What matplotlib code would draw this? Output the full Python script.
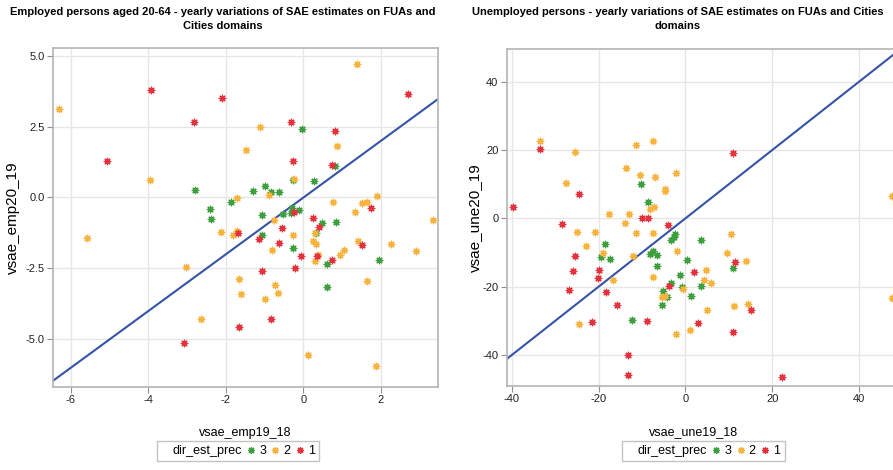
import numpy as np
import matplotlib
matplotlib.use("Agg")
import matplotlib.pyplot as plt
from matplotlib.lines import Line2D

plt.rcParams['font.family'] = ['Liberation Sans', 'DejaVu Sans']
plt.rcParams['axes.unicode_minus'] = False

# --- Employed persons (left panel) ---
emp_g_x = [-0.04, -2.79, -1.29, -0.98, -0.83, -0.63, -0.26, 0.26, 0.81, -1.86, -2.41, -2.39, -1.07,
           -0.52, -0.30, -0.31, -0.12, 0.47, 0.85, -1.08, 0.32, -0.26, 0.61, 1.95, 0.61]
emp_g_y = [2.41, 0.26, 0.24, 0.41, 0.18, 0.19, 0.62, 0.58, 1.11, -0.16, -0.41, -0.77, -0.62,
           -0.57, -0.37, -0.53, -0.43, -0.90, -0.88, -1.31, -1.26, -1.78, -2.33, -2.20, -3.14]
emp_o_x = [-6.31, 1.37, -1.13, -1.49, 0.86, -3.95, -0.24, -5.59, -1.72, -0.88, 1.90, 0.77, 1.50, 1.65,
           1.33, 3.33, -0.76, -2.13, -1.83, -1.72, -0.28, 0.24, 0.30, 0.31, 1.40, 2.27, 2.91, 1.05,
           0.93, -0.80, 0.38, 0.30, -3.03, -1.66, 1.63, -0.73, -1.60, -0.65, -1.00, -2.65, 0.12, 1.88]
emp_o_y = [3.12, 4.71, 2.47, 1.69, 1.82, 0.62, 0.64, -1.44, -0.02, 0.08, 0.05, -0.17, -0.18, -0.15,
           -0.51, -0.80, -0.79, -1.23, -1.33, -1.19, -1.32, -1.55, -1.26, -1.65, -1.55, -1.64, -1.90, -1.84,
           -2.04, -1.85, -2.03, -2.24, -2.44, -2.86, -2.93, -3.09, -3.39, -3.37, -3.57, -4.28, -5.54, -5.95]
emp_r_x = [-3.94, -2.11, 2.70, -2.82, -0.31, 0.80, -5.06, -0.28, 0.74, 0.25, 1.74, -0.25, -1.69,
           -0.55, 0.41, -1.16, -0.64, 1.51, 0.36, -0.07, 0.73, -0.22, -1.08, -1.66, -0.85, -3.07]
emp_r_y = [3.79, 3.50, 3.64, 2.67, 2.67, 2.35, 1.27, 1.27, 1.15, -0.71, -0.37, -0.52, -1.26,
           -1.09, -1.04, -1.47, -1.62, -1.66, -2.06, -2.06, -2.21, -2.47, -2.59, -4.58, -4.28, -5.14]

# --- Unemployed persons (right panel) ---
une_g_x = [-10.3, -8.6, -18.6, -19.4, -17.4, -7.5, -8.2, -6.5, -6.6, -2.3, -2.6, -3.4, 3.6, 0.3,
           -1.3, -0.9, -3.3, -5.1, -4.3, -5.3, 1.2, 3.6, 11.0, -12.3]
une_g_y = [10.2, 4.9, -7.4, -11.4, -11.8, -9.6, -10.3, -10.7, -14.0, -4.6, -5.4, -6.3, -6.3, -12.3,
           -16.5, -20.1, -19.0, -21.2, -23.0, -25.4, -22.8, -19.7, -14.4, -29.8]
une_o_x = [-33.5, -7.5, -25.5, -11.3, -27.6, -13.6, -10.5, -7.1, -2.1, -4.7, -4.7, -8.1, -7.2, -17.6,
           -12.9, -14.0, -25.0, -20.9, -11.4, -7.4, 10.5, -23.0, -19.1, -12.0, -1.9, 9.5, 14.0, -16.7,
           -7.5, 4.8, 4.3, 6.0, -5.5, -4.7, -0.6, 5.0, 11.2, 14.3, -24.5, -2.2, 1.1, 47.7, 47.5]
une_o_y = [22.7, 22.7, 19.4, 21.4, 10.4, 14.7, 12.7, 12.2, 13.3, 8.6, 8.1, 2.8, 3.2, 1.2,
           1.2, -1.5, -4.1, -4.1, -4.2, -4.2, -4.6, -8.2, -10.2, -11.0, -9.7, -10.2, -12.4, -18.1,
           -17.2, -15.2, -18.0, -18.8, -22.9, -22.7, -20.6, -26.8, -25.6, -25.1, -30.9, -33.8, -32.8, 6.4, -23.3]
une_r_x = [-33.5, 10.9, -24.6, -39.8, -28.5, -10.0, -8.6, -4.0, -25.5, -25.9, -19.9, -20.1, -26.9,
           -18.4, -3.9, 1.9, 11.4, -15.7, 15.0, -21.5, -8.8, 2.9, 10.9, -13.3, -13.3, 22.2]
une_r_y = [20.3, 19.1, 7.2, 3.2, -1.7, 0.2, 0.0, -2.0, -11.0, -15.3, -15.1, -17.5, -21.1,
           -21.5, -19.7, -15.7, -12.7, -25.5, -26.9, -30.5, -30.2, -30.7, -33.3, -40.1, -46.0, -46.6]

green = '#3d9f3d'
orange = '#f6b33e'
red = '#e5323c'
blue = '#3553a8'
marker = (8, 2, 0)

fig = plt.figure(figsize=(8.93, 4.70), dpi=100)
ax1 = fig.add_axes([0.0594, 0.1766, 0.4311, 0.7213])
ax2 = fig.add_axes([0.5674, 0.1787, 0.4446, 0.7164])


def style_axes(ax):
    for s in ax.spines.values():
        s.set_color('#b4b4b4')
        s.set_linewidth(1.2)
    ax.grid(True, color='#e6e6e6', linewidth=1.0)
    ax.set_axisbelow(True)
    ax.tick_params(colors='#909090', labelcolor='#222222', labelsize=8, length=4, width=0.8, pad=2)


def draw(ax, gx, gy, ox, oy, rx, ry):
    ax.scatter(gx, gy, marker=marker, s=22, color=green, linewidths=0.9, zorder=3)
    ax.scatter(ox, oy, marker=marker, s=22, color=orange, linewidths=0.9, zorder=3)
    ax.scatter(rx, ry, marker=marker, s=22, color=red, linewidths=0.9, zorder=3)


draw(ax1, emp_g_x, emp_g_y, emp_o_x, emp_o_y, emp_r_x, emp_r_y)
ax1.plot([-10, 10], [-10, 10], color=blue, linewidth=1.5, zorder=2)
ax1.set_xlim(-6.46, 3.47)
ax1.set_ylim(-6.68, 5.27)
ax1.set_xticks([-6, -4, -2, 0, 2])
ax1.set_yticks([-5.0, -2.5, 0.0, 2.5, 5.0])
ax1.set_yticklabels(['-5.0', '-2.5', '0.0', '2.5', '5.0'])
style_axes(ax1)
ax1.set_xlabel('vsae_emp19_18', fontsize=9)
ax1.set_ylabel('vsae_emp20_19', fontsize=11)
ax1.xaxis.set_label_coords(0.5, -0.118)
ax1.yaxis.set_label_coords(-0.086, 0.5)

draw(ax2, une_g_x, une_g_y, une_o_x, une_o_y, une_r_x, une_r_y)
ax2.plot([-100, 100], [-100, 100], color=blue, linewidth=1.5, zorder=2)
ax2.set_xlim(-41.2, 50.3)
ax2.set_ylim(-49.1, 49.5)
ax2.set_xticks([-40, -20, 0, 20, 40])
ax2.set_yticks([-40, -20, 0, 20, 40])
style_axes(ax2)
ax2.set_xlabel('vsae_une19_18', fontsize=9)
ax2.set_ylabel('vsae_une20_19', fontsize=11)
ax2.xaxis.set_label_coords(0.47, -0.118)
ax2.yaxis.set_label_coords(-0.062, 0.5)

fig.text(0.249, 0.985, 'Employed persons aged 20-64 - yearly variations of SAE estimates on FUAs and\nCities domains',
         ha='center', va='top', fontsize=8, fontweight='bold', linespacing=1.45)
fig.text(0.759, 0.985, 'Unemployed persons - yearly variations of SAE estimates on FUAs and Cities\ndomains',
         ha='center', va='top', fontsize=8, fontweight='bold', linespacing=1.45)

for cx in [0.2665, 0.7875]:
    handles = [Line2D([], [], linestyle='none', marker=None),
               Line2D([], [], linestyle='none', marker=marker, color=green, markersize=5, markeredgewidth=0.9),
               Line2D([], [], linestyle='none', marker=marker, color=orange, markersize=5, markeredgewidth=0.9),
               Line2D([], [], linestyle='none', marker=marker, color=red, markersize=5, markeredgewidth=0.9)]
    labels = ['dir_est_prec', '3', '2', '1']
    leg = fig.legend(handles, labels, loc='center', bbox_to_anchor=(cx, 0.0405), ncol=4,
                     fontsize=9, frameon=True, fancybox=False, handlelength=0.5,
                     handletextpad=0.4, columnspacing=0.5, borderpad=0.35)
    leg.get_frame().set_edgecolor('#b4b4b4')
    leg.get_frame().set_linewidth(1.0)

fig.savefig('out.png', dpi=100)
